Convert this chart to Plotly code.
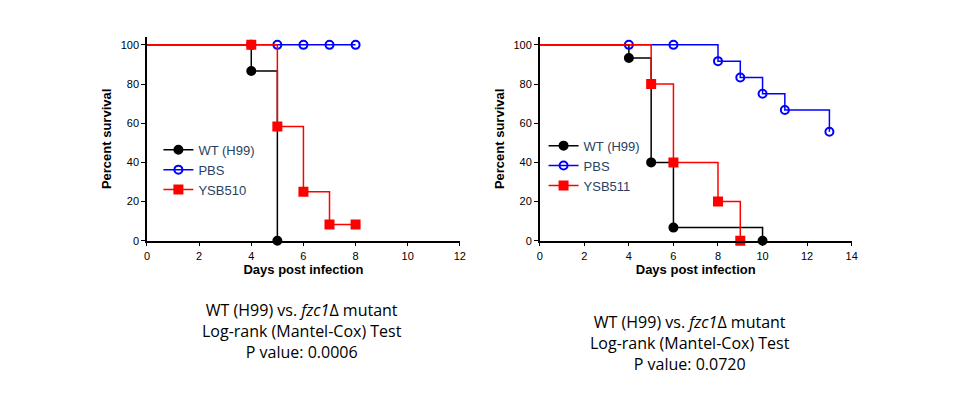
import plotly.graph_objs as go

# left panel
l_wt_x = [0, 4, 5]
l_wt_y = [100, 86.7, 0]
l_wt_mx = [4, 5]
l_wt_my = [86.7, 0]
l_pbs_x = [0, 8]
l_pbs_y = [100, 100]
l_pbs_mx = [4, 5, 6, 7, 8]
l_pbs_my = [100, 100, 100, 100, 100]
l_ysb_x = [0, 5, 6, 7, 8]
l_ysb_y = [100, 58.3, 25, 8.3, 8.3]
l_ysb_mx = [4, 5, 6, 7, 8]
l_ysb_my = [100, 58.3, 25, 8.3, 8.3]

# right panel
r_wt_x = [0, 4, 5, 6, 10]
r_wt_y = [100, 93.3, 40, 6.7, 0]
r_pbs_x = [0, 8, 9, 10, 11, 13]
r_pbs_y = [100, 91.7, 83.3, 75, 66.7, 55.6]
r_pbs_mx = [4, 6, 8, 9, 10, 11, 13]
r_pbs_my = [100, 100, 91.7, 83.3, 75, 66.7, 55.6]
r_ysb_x = [0, 5, 6, 8, 9]
r_ysb_y = [100, 80, 40, 20, 0]

fig = go.Figure()

def km(x, y, mx, my, color, sym, xa, ya):
    fig.add_trace(go.Scatter(x=x, y=y, mode="lines", line=dict(color=color, width=1.5, shape="hv"),
                             xaxis=xa, yaxis=ya, showlegend=False, cliponaxis=False))
    fig.add_trace(go.Scatter(x=mx, y=my, mode="markers", showlegend=False,
                             marker=dict(color=color, symbol=sym, size=8,
                                         line=dict(color=color, width=2)),
                             xaxis=xa, yaxis=ya, cliponaxis=False))

def legtrace(color, sym, name, xa, ya, leg):
    fig.add_trace(go.Scatter(x=[None], y=[None], mode="lines+markers", name=name, legend=leg,
                             line=dict(color=color, width=1.5),
                             marker=dict(color=color, symbol=sym, size=8, line=dict(color=color, width=2)),
                             xaxis=xa, yaxis=ya))

km(l_wt_x, l_wt_y, l_wt_mx, l_wt_my, "black", "circle", "x", "y")
km(l_pbs_x, l_pbs_y, l_pbs_mx, l_pbs_my, "#0000ff", "circle-open", "x", "y")
km(l_ysb_x, l_ysb_y, l_ysb_mx, l_ysb_my, "#ff0000", "square", "x", "y")
km(r_wt_x, r_wt_y, r_wt_x[1:], r_wt_y[1:], "black", "circle", "x2", "y2")
km(r_pbs_x, r_pbs_y, r_pbs_mx, r_pbs_my, "#0000ff", "circle-open", "x2", "y2")
km(r_ysb_x, r_ysb_y, r_ysb_x[1:], r_ysb_y[1:], "#ff0000", "square", "x2", "y2")

legtrace("black", "circle", "WT (H99)", "x", "y", "legend")
legtrace("#0000ff", "circle-open", "PBS", "x", "y", "legend")
legtrace("#ff0000", "square", "YSB510", "x", "y", "legend")
legtrace("black", "circle", "WT (H99)", "x2", "y2", "legend2")
legtrace("#0000ff", "circle-open", "PBS", "x2", "y2", "legend2")
legtrace("#ff0000", "square", "YSB511", "x2", "y2", "legend2")

ax = dict(showline=True, linecolor="black", linewidth=1.5, ticks="outside", tickcolor="black",
          ticklen=4, showgrid=False, zeroline=False,
          tickfont=dict(size=11, family="Liberation Sans", color="black"))
ttl = dict(size=13, family="Liberation Sans", color="black", weight="bold")

fig.update_layout(
    width=960, height=415, margin=dict(l=0, r=0, t=0, b=0),
    plot_bgcolor="white", paper_bgcolor="white",
    xaxis=dict(ax, domain=[0.143, 0.472], range=[0, 12], dtick=2, anchor="y",
               title=dict(text="Days post infection", font=ttl, standoff=4)),
    yaxis=dict(ax, domain=[0.431, 0.929], range=[0, 104], dtick=20, anchor="x",
               title=dict(text="Percent survival", font=ttl, standoff=6)),
    xaxis2=dict(ax, domain=[0.556, 0.884], range=[0, 14], dtick=2, anchor="y2",
                title=dict(text="Days post infection", font=ttl, standoff=4)),
    yaxis2=dict(ax, domain=[0.431, 0.929], range=[0, 104], dtick=20, anchor="x2",
                title=dict(text="Percent survival", font=ttl, standoff=6)),
    legend=dict(x=0.155, y=0.69, xanchor="left", yanchor="top", bgcolor="rgba(0,0,0,0)",
                font=dict(size=13, family="Liberation Sans"), tracegroupgap=0, itemwidth=30),
    legend2=dict(x=0.560, y=0.70, xanchor="left", yanchor="top", bgcolor="rgba(0,0,0,0)",
                 font=dict(size=13, family="Liberation Sans"), tracegroupgap=0, itemwidth=30),
)

caption = dict(size=16, family="Open Sans", color="black")
for cx, cy, p in [(0.306, 0.211, "0.0006"), (0.714, 0.18, "0.0720")]:
    fig.add_annotation(xref="paper", yref="paper", x=cx, y=cy, showarrow=False, font=caption,
                       xanchor="center", yanchor="middle", align="center",
                       text="WT (H99) vs. <i>fzc1</i>Δ mutant<br>Log-rank (Mantel-Cox) Test<br>P value: " + p)

fig.write_html("out.html")
